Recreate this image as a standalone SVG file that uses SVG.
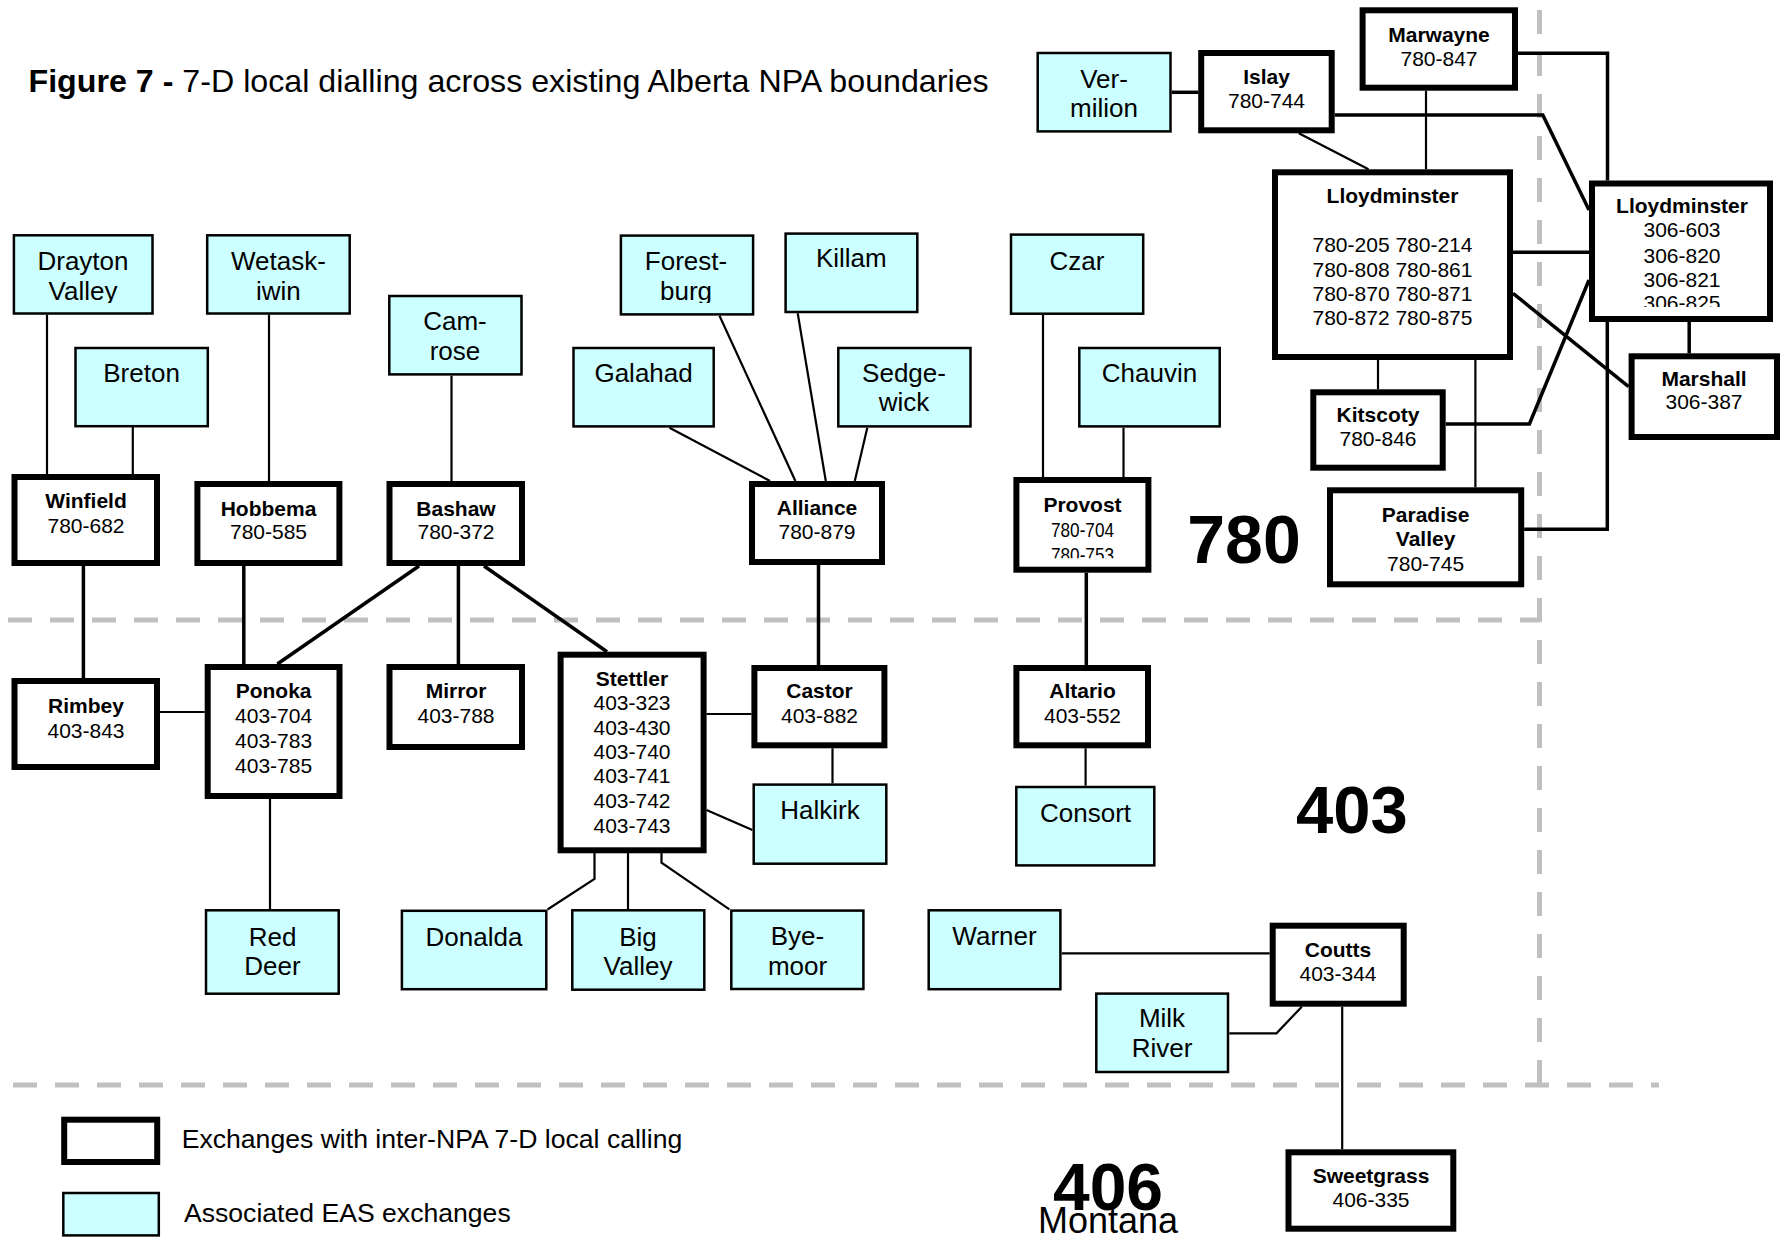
<svg xmlns="http://www.w3.org/2000/svg" width="1781" height="1238" viewBox="0 0 1781 1238">
<style>
.ex{fill:#fff;stroke:#000;stroke-width:6}
.eas{fill:#CCFFFF;stroke:#000;stroke-width:2.5}
text{font-family:"Liberation Sans",Arial,sans-serif;fill:#000}
.nm{font-size:21px;font-weight:bold;text-anchor:middle}
.num{font-size:21px;text-anchor:middle}
.sm{font-size:21px;text-anchor:middle}
.lb{font-size:26px;text-anchor:middle}
.c1{stroke:#000;stroke-width:2.2;fill:none}
.c2{stroke:#000;stroke-width:3.5;fill:none}
.npa{stroke:#C0C0C0;stroke-width:5;stroke-dasharray:24 18;fill:none}
.big{font-weight:bold;text-anchor:middle}
</style>
<defs>
<clipPath id="clipDV"><rect x="13" y="235" width="140" height="68"/></clipPath>
<clipPath id="clipFB"><rect x="620" y="235" width="134" height="68"/></clipPath>
<clipPath id="clipPV"><rect x="1016" y="480" width="132" height="78.3"/></clipPath>
<clipPath id="clipL3"><rect x="1592" y="183" width="178" height="124"/></clipPath>
</defs>
<rect width="1781" height="1238" fill="#fff"/>
<text x="28.5" y="92" font-size="32.2"><tspan font-weight="bold">Figure 7 -</tspan> 7-D local dialling across existing Alberta NPA boundaries</text>
<g id="boundaries">
<path class="npa" d="M8 620H1539.5"/>
<path class="npa" d="M1539.5 10V1085"/>
<path class="npa" d="M13 1085H1659"/>
</g>
<g id="npa-labels">
<text class="big" x="1244" y="563" font-size="68">780</text>
<text class="big" x="1352" y="833" font-size="67">403</text>
<text class="big" x="1108" y="1210" font-size="66">406</text>
<text x="1108" y="1233" font-size="36" text-anchor="middle">Montana</text>
</g>
<g id="connectors">
<path class="c1" d="M47 314.7V474"/>
<path class="c1" d="M132.8 427V474"/>
<path class="c1" d="M269 314.7V481"/>
<path class="c1" d="M451.5 375.7V481"/>
<path class="c1" d="M160 712H204.7"/>
<path class="c1" d="M270 799V909"/>
<path class="c1" d="M706.5 714H751.4"/>
<path class="c1" d="M706.5 810L752.4 830"/>
<path class="c1" d="M832.5 748.3V783.3"/>
<path class="c1" d="M594.5 853V879L547.5 909.5"/>
<path class="c1" d="M628 853V909"/>
<path class="c1" d="M661.5 853V862.7L729.4 909.3"/>
<path class="c1" d="M669.5 427.7L770 481"/>
<path class="c1" d="M719.5 315.7L795.4 481"/>
<path class="c1" d="M797.7 313.3L825.8 481"/>
<path class="c1" d="M867.3 427.7L854.8 481"/>
<path class="c1" d="M1043 315V477"/>
<path class="c1" d="M1123.5 427.7V477"/>
<path class="c1" d="M1085.6 748.3V785.7"/>
<path class="c1" d="M1061.7 953.3H1269.7"/>
<path class="c1" d="M1229.3 1033.3H1276.5L1301.8 1006.7"/>
<path class="c1" d="M1342.2 1006.7V1149.3"/>
<path class="c1" d="M1378 360V389.3"/>
<path class="c1" d="M1475.4 360V487.3"/>
<path class="c1" d="M1426 90.7V169.3" stroke-width="2.6"/>
<path class="c1" d="M1298.8 133.3L1368.5 169.3" stroke-width="2.6"/>
<path class="c2" d="M83.4 566V678"/>
<path class="c2" d="M243.8 566V664"/>
<path class="c2" d="M419 566L277.4 664"/>
<path class="c2" d="M458.4 566V664"/>
<path class="c2" d="M484 566L607 651.7"/>
<path class="c2" d="M818.5 565V665"/>
<path class="c2" d="M1086.3 572.7V665"/>
<path class="c2" d="M1171.8 92.3H1198.2"/>
<path class="c2" d="M1334.7 115H1542.8L1589 210"/>
<path class="c2" d="M1518 53.3H1607.5V180.5"/>
<path class="c2" d="M1513 252.3H1589"/>
<path class="c2" d="M1513 293.3L1628.6 386.7"/>
<path class="c2" d="M1445.7 424H1529.4L1589 280"/>
<path class="c2" d="M1689.2 322V353.3"/>
<path class="c2" d="M1607.3 322V529.3H1524.2"/>
</g>
<g id="drayton-valley"><rect class="eas" x="13.9" y="235.3" width="138.6" height="78.2"/><g clip-path="url(#clipDV)"><text class="lb" x="83" y="270">Drayton</text><text class="lb" x="83" y="300">Valley</text></g></g>
<g id="breton"><rect class="eas" x="75.5" y="348" width="132.3" height="78.2"/><text class="lb" x="141.6" y="381.7">Breton</text></g>
<g id="wetaskiwin"><rect class="eas" x="207.2" y="235.3" width="142.5" height="78.2"/><text class="lb" x="278.4" y="270">Wetask-</text><text class="lb" x="278.4" y="300">iwin</text></g>
<g id="camrose"><rect class="eas" x="389.3" y="296" width="132.2" height="78.4"/><text class="lb" x="455" y="330">Cam-</text><text class="lb" x="455" y="360">rose</text></g>
<g id="galahad"><rect class="eas" x="573.5" y="348" width="140.2" height="78.4"/><text class="lb" x="643.6" y="381.7">Galahad</text></g>
<g id="forestburg"><rect class="eas" x="620.9" y="235.6" width="132.2" height="78.8"/><g clip-path="url(#clipFB)"><text class="lb" x="686" y="270">Forest-</text><text class="lb" x="686" y="300">burg</text></g></g>
<g id="killam"><rect class="eas" x="785.6" y="233.6" width="131.7" height="78.4"/><text class="lb" x="851.3" y="266.7">Killam</text></g>
<g id="sedgewick"><rect class="eas" x="838.3" y="348" width="132.2" height="78.4"/><text class="lb" x="904" y="381.7">Sedge-</text><text class="lb" x="904" y="410.7">wick</text></g>
<g id="czar"><rect class="eas" x="1011" y="234.6" width="132.2" height="79.1"/><text class="lb" x="1077" y="270">Czar</text></g>
<g id="chauvin"><rect class="eas" x="1079.3" y="348" width="140.4" height="78.4"/><text class="lb" x="1149.5" y="381.7">Chauvin</text></g>
<g id="vermilion"><rect class="eas" x="1037.7" y="53" width="132.8" height="78.4"/><text class="lb" x="1104" y="88.3">Ver-</text><text class="lb" x="1104" y="117.3">milion</text></g>
<g id="red-deer"><rect class="eas" x="206" y="910.3" width="132.7" height="83.4"/><text class="lb" x="272.5" y="946">Red</text><text class="lb" x="272.5" y="975">Deer</text></g>
<g id="donalda"><rect class="eas" x="401.9" y="910.8" width="144.4" height="78.4"/><text class="lb" x="474" y="946">Donalda</text></g>
<g id="big-valley"><rect class="eas" x="572.3" y="910.3" width="132" height="79.4"/><text class="lb" x="638" y="946">Big</text><text class="lb" x="638" y="975">Valley</text></g>
<g id="byemoor"><rect class="eas" x="731.3" y="910.6" width="132.1" height="78.4"/><text class="lb" x="797.5" y="945">Bye-</text><text class="lb" x="797.5" y="975">moor</text></g>
<g id="halkirk"><rect class="eas" x="753.7" y="784.6" width="132.6" height="79.1"/><text class="lb" x="820" y="819">Halkirk</text></g>
<g id="consort"><rect class="eas" x="1016.3" y="787" width="138" height="78.4"/><text class="lb" x="1085.5" y="821.7">Consort</text></g>
<g id="warner"><rect class="eas" x="928.7" y="910.3" width="131.7" height="78.9"/><text class="lb" x="994.5" y="945">Warner</text></g>
<g id="milk-river"><rect class="eas" x="1096.3" y="993.6" width="131.7" height="78.4"/><text class="lb" x="1162" y="1026.7">Milk</text><text class="lb" x="1162" y="1057">River</text></g>
<g id="winfield"><rect class="ex" x="14.5" y="477" width="142.5" height="86"/><text class="nm" x="86" y="508">Winfield</text><text class="num" x="86" y="533">780-682</text></g>
<g id="hobbema"><rect class="ex" x="197.4" y="484" width="142" height="79"/><text class="nm" x="268.5" y="516">Hobbema</text><text class="num" x="268.5" y="539">780-585</text></g>
<g id="bashaw"><rect class="ex" x="389.5" y="484" width="132.5" height="79"/><text class="nm" x="456" y="516">Bashaw</text><text class="num" x="456" y="539">780-372</text></g>
<g id="alliance"><rect class="ex" x="752" y="484" width="130" height="78"/><text class="nm" x="817" y="515">Alliance</text><text class="num" x="817" y="539">780-879</text></g>
<g id="provost"><rect class="ex" x="1016.4" y="480" width="132" height="89.7"/><text class="nm" x="1082.5" y="511.7">Provost</text><g clip-path="url(#clipPV)"><text class="sm" x="1082.5" y="536.7" textLength="63" lengthAdjust="spacingAndGlyphs">780-704</text><text class="sm" x="1082.5" y="561.7" textLength="63" lengthAdjust="spacingAndGlyphs">780-753</text></g></g>
<g id="rimbey"><rect class="ex" x="14.5" y="681" width="142.5" height="86"/><text class="nm" x="86" y="713">Rimbey</text><text class="num" x="86" y="738">403-843</text></g>
<g id="ponoka"><rect class="ex" x="207.7" y="667" width="131.8" height="129"/><text class="nm" x="273.6" y="698">Ponoka</text><text class="num" x="273.6" y="723">403-704</text><text class="num" x="273.6" y="748">403-783</text><text class="num" x="273.6" y="773">403-785</text></g>
<g id="mirror"><rect class="ex" x="389.5" y="667" width="132.5" height="80"/><text class="nm" x="456" y="698">Mirror</text><text class="num" x="456" y="723">403-788</text></g>
<g id="stettler"><rect class="ex" x="560.6" y="654.7" width="143" height="195.6"/><text class="nm" x="632" y="686">Stettler</text><text class="num" x="632" y="710">403-323</text><text class="num" x="632" y="734.5">403-430</text><text class="num" x="632" y="759">403-740</text><text class="num" x="632" y="783">403-741</text><text class="num" x="632" y="808">403-742</text><text class="num" x="632" y="832.7">403-743</text></g>
<g id="castor"><rect class="ex" x="754.4" y="668" width="130" height="77.3"/><text class="nm" x="819.5" y="698">Castor</text><text class="num" x="819.5" y="723">403-882</text></g>
<g id="altario"><rect class="ex" x="1016.4" y="668" width="131.6" height="77.3"/><text class="nm" x="1082.5" y="698">Altario</text><text class="num" x="1082.5" y="723">403-552</text></g>
<g id="coutts"><rect class="ex" x="1272.7" y="925.7" width="131" height="78"/><text class="nm" x="1338" y="956.7">Coutts</text><text class="num" x="1338" y="980.7">403-344</text></g>
<g id="sweetgrass"><rect class="ex" x="1288.5" y="1152.3" width="164.8" height="76.4"/><text class="nm" x="1371" y="1183.3">Sweetgrass</text><text class="num" x="1371" y="1206.7">406-335</text></g>
<g id="islay"><rect class="ex" x="1201.2" y="53" width="130.5" height="77.3"/><text class="nm" x="1266.5" y="84">Islay</text><text class="num" x="1266.5" y="108.3">780-744</text></g>
<g id="marwayne"><rect class="ex" x="1362.6" y="10.3" width="152.4" height="77.4"/><text class="nm" x="1439" y="41.7">Marwayne</text><text class="num" x="1439" y="65.7">780-847</text></g>
<g id="lloydminster-780"><rect class="ex" x="1275" y="172.3" width="235" height="184.7"/><text class="nm" x="1392.5" y="202.7">Lloydminster</text><text class="num" x="1392.5" y="251.7">780-205 780-214</text><text class="num" x="1392.5" y="276.7">780-808 780-861</text><text class="num" x="1392.5" y="300.7">780-870 780-871</text><text class="num" x="1392.5" y="325">780-872 780-875</text></g>
<g id="lloydminster-306"><rect class="ex" x="1592" y="183.5" width="178" height="135.5"/><text class="nm" x="1682" y="213.3">Lloydminster</text><g clip-path="url(#clipL3)"><text class="num" x="1682" y="237.3">306-603</text><text class="num" x="1682" y="262.7">306-820</text><text class="num" x="1682" y="286.7">306-821</text><text class="num" x="1682" y="309.5">306-825</text></g></g>
<g id="marshall"><rect class="ex" x="1631.6" y="356.3" width="145.4" height="80.7"/><text class="nm" x="1704" y="385.7">Marshall</text><text class="num" x="1704" y="409.3">306-387</text></g>
<g id="kitscoty"><rect class="ex" x="1313.3" y="392.3" width="129.4" height="75.4"/><text class="nm" x="1378" y="421.7">Kitscoty</text><text class="num" x="1378" y="446">780-846</text></g>
<g id="paradise-valley"><rect class="ex" x="1330" y="490.3" width="191.2" height="94"/><text class="nm" x="1425.6" y="521.7">Paradise</text><text class="nm" x="1425.6" y="545.7">Valley</text><text class="num" x="1425.6" y="570.7">780-745</text></g>
<g id="legend">
<rect class="ex" x="64.2" y="1119.7" width="93" height="42.3"/>
<text x="181.7" y="1148" font-size="26.6">Exchanges with inter-NPA 7-D local calling</text>
<rect class="eas" x="63.3" y="1193" width="95.5" height="42.4"/>
<text x="184" y="1221.7" font-size="26.6">Associated EAS exchanges</text>
</g>
</svg>
